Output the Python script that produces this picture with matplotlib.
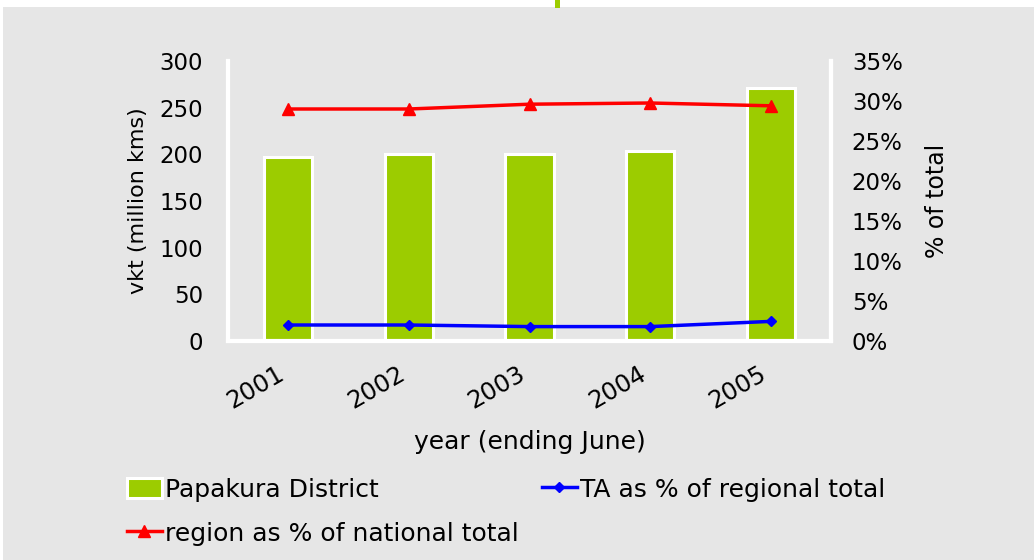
import matplotlib
matplotlib.use("Agg")
import matplotlib.pyplot as plt
import matplotlib.transforms as mtransforms
from matplotlib.patches import Rectangle
import numpy as np

years = ["2001", "2002", "2003", "2004", "2005"]
vkt = [197, 200, 200, 204, 271]
ta_pct = [2.0, 2.0, 1.8, 1.8, 2.45]
region_pct = [29.0, 29.0, 29.6, 29.75, 29.4]

BG = "#e6e6e6"
GREEN = "#9ccc00"

fig = plt.figure(figsize=(10.34, 5.6), dpi=100, facecolor="white")
fig.patches.append(Rectangle((3 / 1034, 0), 1, 1 - 7 / 560, transform=fig.transFigure,
                             facecolor=BG, edgecolor="none", zorder=-10))
fig.patches.append(Rectangle((555 / 1034, 1 - 8 / 560), 5 / 1034, 8 / 560, transform=fig.transFigure,
                             facecolor=GREEN, edgecolor="none", zorder=-9))

ax = fig.add_axes([228 / 1034, 1 - 341 / 560, (831 - 228) / 1034, (341 - 61) / 560])
ax.patch.set_visible(False)
x = np.arange(len(years))
bars = ax.bar(x, vkt, width=0.4, color=GREEN, edgecolor="white", linewidth=2.2,
              label="Papakura District", zorder=2)
ax.set_xlim(-0.5, len(years) - 0.5)
ax.set_ylim(0, 300)
ax.set_yticks(range(0, 301, 50))
ax.set_xticks(x)
ax.set_xticklabels(years, rotation=30, ha="right", fontsize=17.5)
shift = mtransforms.ScaledTranslation(-6 / 100, 0, fig.dpi_scale_trans)
for lab in ax.get_xticklabels():
    lab.set_transform(lab.get_transform() + shift)
ax.tick_params(axis="y", length=0, labelsize=16.5, pad=18)
ax.tick_params(axis="x", length=0, pad=15)
ax.spines["top"].set_visible(False)
for s in ["left", "bottom", "right"]:
    ax.spines[s].set_color("white")
    ax.spines[s].set_linewidth(3)
ax.set_ylabel("vkt (million kms)", fontsize=16, labelpad=8)
ax.set_xlabel("year (ending June)", fontsize=18, labelpad=12)

ax2 = ax.twinx()
ax2.set_ylim(0, 35)
ax2.set_yticks(range(0, 36, 5))
ax2.set_yticklabels([f"{v}%" for v in range(0, 36, 5)])
ax2.tick_params(length=0, labelsize=16.5, pad=15)
for s in ["top", "left", "bottom"]:
    ax2.spines[s].set_visible(False)
ax2.spines["right"].set_color("white")
ax2.spines["right"].set_linewidth(3)
l_ta, = ax2.plot(x, ta_pct, color="#0000ff", lw=2.5, marker="D", markersize=5,
                 label="TA as % of regional total", zorder=3)
l_reg, = ax2.plot(x, region_pct, color="#ff0000", lw=2.5, marker="^", markersize=8,
                  label="region as % of national total", zorder=3)
ax2.set_ylabel("% of total", fontsize=17, labelpad=16)

fig.legend([bars, l_reg, l_ta],
           ["Papakura District", "region as % of national total", "TA as % of regional total"],
           ncol=2, loc="upper left", bbox_to_anchor=(114 / 1034, 1 - 465 / 560),
           frameon=False, fontsize=18, handlelength=1.4, handleheight=0.85, handletextpad=0.15,
           columnspacing=0.9, labelspacing=0.8, borderpad=0)

fig.savefig("out.png", dpi=100, facecolor=fig.get_facecolor())
